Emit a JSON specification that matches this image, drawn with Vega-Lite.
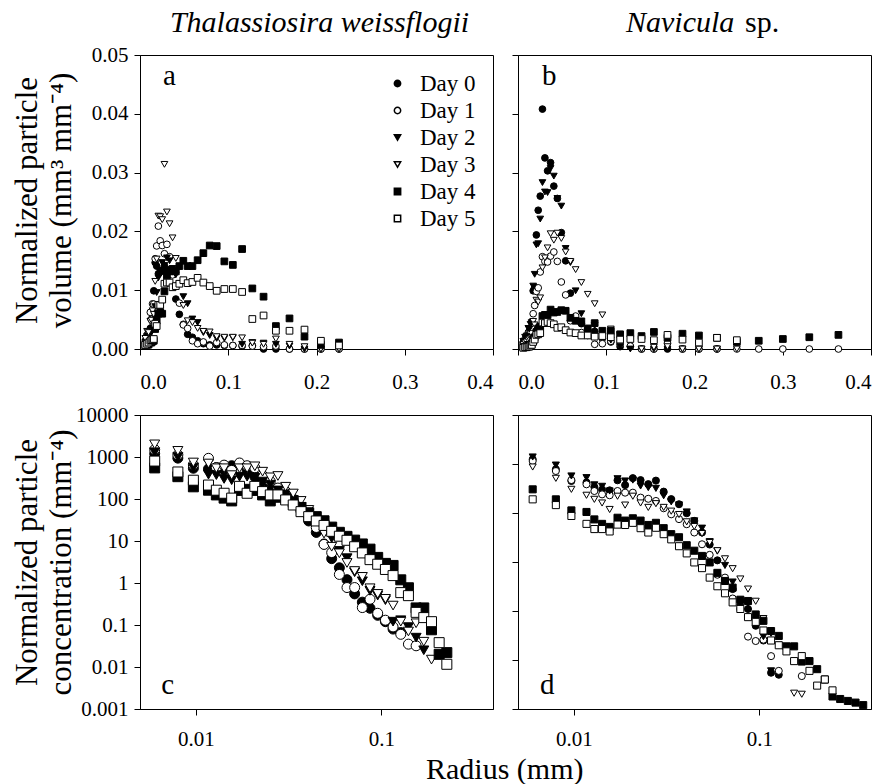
{
"$schema":"https://vega.github.io/schema/vega-lite/v6.json",
"background":"white",
"padding":{"left":10,"top":7,"right":5,"bottom":0},
"config":{
 "font":"Liberation Serif",
 "view":{"stroke":"black","strokeWidth":1},
 "axis":{"grid":false,"domainColor":"black","tickColor":"black","labelColor":"black","titleColor":"black","labelFontSize":21,"tickSize":6,"domainWidth":1,"tickWidth":1,"titleFontWeight":"normal","labelFont":"Liberation Serif","titleFont":"Liberation Serif"},
 "title":{"font":"Liberation Serif","color":"black","fontWeight":"normal"},
 "text":{"font":"Liberation Serif"}
},
"data":{"values":[
{"s":"T","d":0,"r":0.006,"n":1200,"v":0.0011},{"s":"T","d":0,"r":0.008,"n":940,"v":0.002},{"s":"T","d":0,"r":0.0097,"n":540,"v":0.0021},{"s":"T","d":0,"r":0.0117,"n":520,"v":0.0035},{"s":"T","d":0,"r":0.0129,"n":560,"v":0.005},{"s":"T","d":0,"r":0.0142,"n":500,"v":0.006},{"s":"T","d":0,"r":0.0156,"n":620,"v":0.0099},{"s":"T","d":0,"r":0.0172,"n":690,"v":0.0147},{"s":"T","d":0,"r":0.0189,"n":500,"v":0.0141},{"s":"T","d":0,"r":0.0208,"n":340,"v":0.0128},{"s":"T","d":0,"r":0.0229,"n":260,"v":0.0131},{"s":"T","d":0,"r":0.0252,"n":200,"v":0.0134},{"s":"T","d":0,"r":0.0277,"n":158,"v":0.0141},{"s":"T","d":0,"r":0.0305,"n":112,"v":0.0133},{"s":"T","d":0,"r":0.0335,"n":86,"v":0.0135},{"s":"T","d":0,"r":0.0369,"n":62,"v":0.013},{"s":"T","d":0,"r":0.0406,"n":30,"v":0.0085},{"s":"T","d":0,"r":0.0446,"n":16,"v":0.0059},{"s":"T","d":0,"r":0.0491,"n":8.5,"v":0.0042},{"s":"T","d":0,"r":0.054,"n":3.8,"v":0.0025},{"s":"T","d":0,"r":0.0594,"n":2.3,"v":0.002},{"s":"T","d":0,"r":0.0653,"n":1.2,"v":0.0014},{"s":"T","d":0,"r":0.0718,"n":0.55,"v":0.0009},{"s":"T","d":0,"r":0.079,"n":0.35,"v":0.0007},{"s":"T","d":0,"r":0.0869,"n":0.25,"v":0.0007},{"s":"T","d":0,"r":0.0956,"n":0.17,"v":0.0006},{"s":"T","d":0,"r":0.1052,"n":0.12,"v":0.0006},{"s":"T","d":0,"r":0.1157,"n":0.08,"v":0.0005},{"s":"T","d":0,"r":0.1273,"n":0.066,"v":0.0006},{"s":"T","d":0,"r":0.14,"n":null,"v":0},{"s":"T","d":0,"r":0.154,"n":null,"v":0},{"s":"T","d":0,"r":0.1694,"n":null,"v":0},{"s":"T","d":0,"r":0.1864,"n":null,"v":0},{"s":"T","d":0,"r":0.205,"n":null,"v":0},{"s":"T","d":0,"r":0.2255,"n":null,"v":0},
{"s":"T","d":1,"r":0.006,"n":1500,"v":0.00136},{"s":"T","d":1,"r":0.008,"n":1130,"v":0.00242},{"s":"T","d":1,"r":0.0097,"n":650,"v":0.00248},{"s":"T","d":1,"r":0.0117,"n":930,"v":0.00624},{"s":"T","d":1,"r":0.0129,"n":560,"v":0.00504},{"s":"T","d":1,"r":0.0142,"n":640,"v":0.00768},{"s":"T","d":1,"r":0.0156,"n":480,"v":0.00763},{"s":"T","d":1,"r":0.0172,"n":720,"v":0.01535},{"s":"T","d":1,"r":0.0189,"n":620,"v":0.01753},{"s":"T","d":1,"r":0.0208,"n":554,"v":0.0209},{"s":"T","d":1,"r":0.0229,"n":366,"v":0.0184},{"s":"T","d":1,"r":0.0252,"n":263,"v":0.0176},{"s":"T","d":1,"r":0.0277,"n":182,"v":0.0162},{"s":"T","d":1,"r":0.0305,"n":150,"v":0.0178},{"s":"T","d":1,"r":0.0335,"n":100,"v":0.0157},{"s":"T","d":1,"r":0.0369,"n":60,"v":0.0126},{"s":"T","d":1,"r":0.0406,"n":38,"v":0.0107},{"s":"T","d":1,"r":0.0446,"n":21,"v":0.0078},{"s":"T","d":1,"r":0.0491,"n":8.3,"v":0.0041},{"s":"T","d":1,"r":0.054,"n":5.3,"v":0.0035},{"s":"T","d":1,"r":0.0594,"n":1.6,"v":0.0014},{"s":"T","d":1,"r":0.0653,"n":0.78,"v":0.0009},{"s":"T","d":1,"r":0.0718,"n":0.78,"v":0.0012},{"s":"T","d":1,"r":0.079,"n":0.26,"v":0.0005},{"s":"T","d":1,"r":0.0869,"n":0.41,"v":0.0011},{"s":"T","d":1,"r":0.0956,"n":0.19,"v":0.0007},{"s":"T","d":1,"r":0.1052,"n":0.13,"v":0.0006},{"s":"T","d":1,"r":0.1157,"n":0.09,"v":0.0006},{"s":"T","d":1,"r":0.1273,"n":0.06,"v":0.0005},{"s":"T","d":1,"r":0.14,"n":0.035,"v":0.0004},{"s":"T","d":1,"r":0.154,"n":0.032,"v":0.0005},{"s":"T","d":1,"r":0.1694,"n":null,"v":0},{"s":"T","d":1,"r":0.1864,"n":null,"v":0},{"s":"T","d":1,"r":0.205,"n":null,"v":0},{"s":"T","d":1,"r":0.2255,"n":null,"v":0},
{"s":"T","d":2,"r":0.006,"n":1300,"v":0.0012},{"s":"T","d":2,"r":0.008,"n":1000,"v":0.0021},{"s":"T","d":2,"r":0.0097,"n":560,"v":0.0021},{"s":"T","d":2,"r":0.0117,"n":380,"v":0.0025},{"s":"T","d":2,"r":0.0129,"n":370,"v":0.0033},{"s":"T","d":2,"r":0.0142,"n":300,"v":0.0036},{"s":"T","d":2,"r":0.0156,"n":280,"v":0.0045},{"s":"T","d":2,"r":0.0172,"n":340,"v":0.0072},{"s":"T","d":2,"r":0.0189,"n":340,"v":0.0096},{"s":"T","d":2,"r":0.0208,"n":320,"v":0.0121},{"s":"T","d":2,"r":0.0229,"n":260,"v":0.0131},{"s":"T","d":2,"r":0.0252,"n":220,"v":0.0147},{"s":"T","d":2,"r":0.0277,"n":160,"v":0.0142},{"s":"T","d":2,"r":0.0305,"n":130,"v":0.0155},{"s":"T","d":2,"r":0.0335,"n":95,"v":0.015},{"s":"T","d":2,"r":0.0369,"n":65,"v":0.0137},{"s":"T","d":2,"r":0.0406,"n":45,"v":0.0126},{"s":"T","d":2,"r":0.0446,"n":30,"v":0.0111},{"s":"T","d":2,"r":0.0491,"n":18,"v":0.0089},{"s":"T","d":2,"r":0.054,"n":11.7,"v":0.0077},{"s":"T","d":2,"r":0.0594,"n":5.8,"v":0.0051},{"s":"T","d":2,"r":0.0653,"n":3.9,"v":0.0045},{"s":"T","d":2,"r":0.0718,"n":1.8,"v":0.0028},{"s":"T","d":2,"r":0.079,"n":1.1,"v":0.0023},{"s":"T","d":2,"r":0.0869,"n":0.65,"v":0.0018},{"s":"T","d":2,"r":0.0956,"n":0.5,"v":0.0018},{"s":"T","d":2,"r":0.1052,"n":0.39,"v":0.0019},{"s":"T","d":2,"r":0.1157,"n":0.12,"v":0.0008},{"s":"T","d":2,"r":0.1273,"n":0.13,"v":0.0011},{"s":"T","d":2,"r":0.14,"n":0.089,"v":0.001},{"s":"T","d":2,"r":0.154,"n":0.05,"v":0.0008},{"s":"T","d":2,"r":0.1694,"n":0.025,"v":0.0005},{"s":"T","d":2,"r":0.1864,"n":null,"v":0},{"s":"T","d":2,"r":0.205,"n":null,"v":0},{"s":"T","d":2,"r":0.2255,"n":null,"v":0},
{"s":"T","d":3,"r":0.006,"n":2000,"v":0.0018},{"s":"T","d":3,"r":0.008,"n":1400,"v":0.003},{"s":"T","d":3,"r":0.0097,"n":740,"v":0.0028},{"s":"T","d":3,"r":0.0117,"n":700,"v":0.0047},{"s":"T","d":3,"r":0.0129,"n":540,"v":0.0049},{"s":"T","d":3,"r":0.0142,"n":540,"v":0.0065},{"s":"T","d":3,"r":0.0156,"n":370,"v":0.0059},{"s":"T","d":3,"r":0.0172,"n":540,"v":0.0115},{"s":"T","d":3,"r":0.0189,"n":540,"v":0.0153},{"s":"T","d":3,"r":0.0208,"n":600,"v":0.0226},{"s":"T","d":3,"r":0.0229,"n":447,"v":0.0225},{"s":"T","d":3,"r":0.0252,"n":328,"v":0.022},{"s":"T","d":3,"r":0.0277,"n":353,"v":0.0314},{"s":"T","d":3,"r":0.0305,"n":196,"v":0.0233},{"s":"T","d":3,"r":0.0335,"n":135,"v":0.0213},{"s":"T","d":3,"r":0.0369,"n":90,"v":0.0189},{"s":"T","d":3,"r":0.0406,"n":55,"v":0.0154},{"s":"T","d":3,"r":0.0446,"n":30,"v":0.0111},{"s":"T","d":3,"r":0.0491,"n":15,"v":0.0074},{"s":"T","d":3,"r":0.054,"n":7.3,"v":0.0048},{"s":"T","d":3,"r":0.0594,"n":5.1,"v":0.0045},{"s":"T","d":3,"r":0.0653,"n":3,"v":0.0035},{"s":"T","d":3,"r":0.0718,"n":1.93,"v":0.003},{"s":"T","d":3,"r":0.079,"n":1.4,"v":0.0029},{"s":"T","d":3,"r":0.0869,"n":0.75,"v":0.0021},{"s":"T","d":3,"r":0.0956,"n":0.55,"v":0.002},{"s":"T","d":3,"r":0.1052,"n":0.42,"v":0.002},{"s":"T","d":3,"r":0.1157,"n":0.29,"v":0.0019},{"s":"T","d":3,"r":0.1273,"n":0.12,"v":0.001},{"s":"T","d":3,"r":0.14,"n":0.07,"v":0.0008},{"s":"T","d":3,"r":0.154,"n":0.11,"v":0.0017},{"s":"T","d":3,"r":0.1694,"n":0.04,"v":0.0008},{"s":"T","d":3,"r":0.1864,"n":0.015,"v":0.0004},{"s":"T","d":3,"r":0.205,"n":null,"v":0},{"s":"T","d":3,"r":0.2255,"n":null,"v":0},
{"s":"T","d":4,"r":0.006,"n":550,"v":0.0005},{"s":"T","d":4,"r":0.008,"n":340,"v":0.0007},{"s":"T","d":4,"r":0.0097,"n":195,"v":0.00075},{"s":"T","d":4,"r":0.0117,"n":162,"v":0.0011},{"s":"T","d":4,"r":0.0129,"n":125,"v":0.0011},{"s":"T","d":4,"r":0.0142,"n":105,"v":0.0013},{"s":"T","d":4,"r":0.0156,"n":90,"v":0.0014},{"s":"T","d":4,"r":0.0172,"n":160,"v":0.0034},{"s":"T","d":4,"r":0.0189,"n":170,"v":0.0048},{"s":"T","d":4,"r":0.0208,"n":160,"v":0.006},{"s":"T","d":4,"r":0.0229,"n":125,"v":0.0063},{"s":"T","d":4,"r":0.0252,"n":90,"v":0.006},{"s":"T","d":4,"r":0.0277,"n":110,"v":0.0098},{"s":"T","d":4,"r":0.0305,"n":105,"v":0.0125},{"s":"T","d":4,"r":0.0335,"n":84,"v":0.0132},{"s":"T","d":4,"r":0.0369,"n":63,"v":0.0133},{"s":"T","d":4,"r":0.0406,"n":47,"v":0.0132},{"s":"T","d":4,"r":0.0446,"n":38,"v":0.0141},{"s":"T","d":4,"r":0.0491,"n":30.3,"v":0.015},{"s":"T","d":4,"r":0.054,"n":21.4,"v":0.0141},{"s":"T","d":4,"r":0.0594,"n":16.1,"v":0.0141},{"s":"T","d":4,"r":0.0653,"n":12.9,"v":0.0151},{"s":"T","d":4,"r":0.0718,"n":10.5,"v":0.0163},{"s":"T","d":4,"r":0.079,"n":8.5,"v":0.0176},{"s":"T","d":4,"r":0.0869,"n":6.4,"v":0.0175},{"s":"T","d":4,"r":0.0956,"n":4.07,"v":0.0149},{"s":"T","d":4,"r":0.1052,"n":2.93,"v":0.0143},{"s":"T","d":4,"r":0.1157,"n":2.62,"v":0.017},{"s":"T","d":4,"r":0.1273,"n":1.19,"v":0.0103},{"s":"T","d":4,"r":0.14,"n":0.77,"v":0.0089},{"s":"T","d":4,"r":0.154,"n":0.255,"v":0.0039},{"s":"T","d":4,"r":0.1694,"n":0.255,"v":0.0052},{"s":"T","d":4,"r":0.1864,"n":0.077,"v":0.0021},{"s":"T","d":4,"r":0.205,"n":0.02,"v":0.0007},{"s":"T","d":4,"r":0.2255,"n":0.022,"v":0.0011},
{"s":"T","d":5,"r":0.006,"n":800,"v":0.0007},{"s":"T","d":5,"r":0.008,"n":440,"v":0.0009},{"s":"T","d":5,"r":0.0097,"n":280,"v":0.0011},{"s":"T","d":5,"r":0.0117,"n":215,"v":0.0014},{"s":"T","d":5,"r":0.0129,"n":162,"v":0.0015},{"s":"T","d":5,"r":0.0142,"n":137,"v":0.0016},{"s":"T","d":5,"r":0.0156,"n":105,"v":0.0017},{"s":"T","d":5,"r":0.0172,"n":200,"v":0.0043},{"s":"T","d":5,"r":0.0189,"n":137,"v":0.0039},{"s":"T","d":5,"r":0.0208,"n":200,"v":0.0075},{"s":"T","d":5,"r":0.0229,"n":150,"v":0.0075},{"s":"T","d":5,"r":0.0252,"n":125,"v":0.0084},{"s":"T","d":5,"r":0.0277,"n":125,"v":0.0111},{"s":"T","d":5,"r":0.0305,"n":95,"v":0.0113},{"s":"T","d":5,"r":0.0335,"n":72,"v":0.0113},{"s":"T","d":5,"r":0.0369,"n":50,"v":0.0105},{"s":"T","d":5,"r":0.0406,"n":38,"v":0.0107},{"s":"T","d":5,"r":0.0446,"n":30,"v":0.0111},{"s":"T","d":5,"r":0.0491,"n":23.5,"v":0.0117},{"s":"T","d":5,"r":0.054,"n":17,"v":0.0112},{"s":"T","d":5,"r":0.0594,"n":13,"v":0.0114},{"s":"T","d":5,"r":0.0653,"n":10.4,"v":0.0121},{"s":"T","d":5,"r":0.0718,"n":7.3,"v":0.0113},{"s":"T","d":5,"r":0.079,"n":5.2,"v":0.0107},{"s":"T","d":5,"r":0.0869,"n":3.6,"v":0.0099},{"s":"T","d":5,"r":0.0956,"n":2.8,"v":0.0102},{"s":"T","d":5,"r":0.1052,"n":2.1,"v":0.0102},{"s":"T","d":5,"r":0.1157,"n":1.5,"v":0.0097},{"s":"T","d":5,"r":0.1273,"n":0.59,"v":0.0051},{"s":"T","d":5,"r":0.14,"n":0.5,"v":0.0057},{"s":"T","d":5,"r":0.154,"n":0.2,"v":0.0031},{"s":"T","d":5,"r":0.1694,"n":0.15,"v":0.0031},{"s":"T","d":5,"r":0.1864,"n":0.12,"v":0.0033},{"s":"T","d":5,"r":0.205,"n":0.038,"v":0.0014},{"s":"T","d":5,"r":0.2255,"n":0.0116,"v":0.0006},
{"s":"N","d":0,"r":0.006,"n":1250,"v":0.0011},{"s":"N","d":0,"r":0.008,"n":780,"v":0.0017},{"s":"N","d":0,"r":0.0097,"n":450,"v":0.0017},{"s":"N","d":0,"r":0.0117,"n":420,"v":0.0028},{"s":"N","d":0,"r":0.0129,"n":340,"v":0.0031},{"s":"N","d":0,"r":0.0142,"n":300,"v":0.0036},{"s":"N","d":0,"r":0.0156,"n":290,"v":0.0046},{"s":"N","d":0,"r":0.0172,"n":465,"v":0.0099},{"s":"N","d":0,"r":0.0189,"n":371,"v":0.0105},{"s":"N","d":0,"r":0.0208,"n":515,"v":0.0194},{"s":"N","d":0,"r":0.0229,"n":469,"v":0.0236},{"s":"N","d":0,"r":0.0252,"n":388,"v":0.026},{"s":"N","d":0,"r":0.0277,"n":458,"v":0.0408},{"s":"N","d":0,"r":0.0305,"n":273,"v":0.0325},{"s":"N","d":0,"r":0.0335,"n":192,"v":0.0303},{"s":"N","d":0,"r":0.0369,"n":151,"v":0.0317},{"s":"N","d":0,"r":0.0406,"n":99,"v":0.0277},{"s":"N","d":0,"r":0.0446,"n":69,"v":0.0256},{"s":"N","d":0,"r":0.0491,"n":40,"v":0.0198},{"s":"N","d":0,"r":0.054,"n":22.7,"v":0.015},{"s":"N","d":0,"r":0.0594,"n":10.8,"v":0.0095},{"s":"N","d":0,"r":0.0653,"n":4.4,"v":0.0051},{"s":"N","d":0,"r":0.0718,"n":2.8,"v":0.0043},{"s":"N","d":0,"r":0.079,"n":1.6,"v":0.0033},{"s":"N","d":0,"r":0.0869,"n":1.1,"v":0.003},{"s":"N","d":0,"r":0.0956,"n":0.5,"v":0.0018},{"s":"N","d":0,"r":0.1052,"n":0.25,"v":0.0012},{"s":"N","d":0,"r":0.1157,"n":0.055,"v":0.0004},{"s":"N","d":0,"r":0.1273,"n":0.05,"v":0.0004},{"s":"N","d":0,"r":0.14,"n":null,"v":0},{"s":"N","d":0,"r":0.154,"n":null,"v":0},{"s":"N","d":0,"r":0.1694,"n":null,"v":0},{"s":"N","d":0,"r":0.1864,"n":null,"v":0},{"s":"N","d":0,"r":0.205,"n":null,"v":0},{"s":"N","d":0,"r":0.2255,"n":null,"v":0},
{"s":"N","d":1,"r":0.006,"n":1150,"v":0.001},{"s":"N","d":1,"r":0.008,"n":720,"v":0.0015},{"s":"N","d":1,"r":0.0097,"n":470,"v":0.0018},{"s":"N","d":1,"r":0.0117,"n":385,"v":0.0026},{"s":"N","d":1,"r":0.0129,"n":281,"v":0.0025},{"s":"N","d":1,"r":0.0142,"n":240,"v":0.0029},{"s":"N","d":1,"r":0.0156,"n":230,"v":0.0037},{"s":"N","d":1,"r":0.0172,"n":281,"v":0.006},{"s":"N","d":1,"r":0.0189,"n":260,"v":0.0074},{"s":"N","d":1,"r":0.0208,"n":260,"v":0.0098},{"s":"N","d":1,"r":0.0229,"n":206,"v":0.0104},{"s":"N","d":1,"r":0.0252,"n":195,"v":0.0131},{"s":"N","d":1,"r":0.0277,"n":176,"v":0.0157},{"s":"N","d":1,"r":0.0305,"n":125,"v":0.0149},{"s":"N","d":1,"r":0.0335,"n":94,"v":0.0148},{"s":"N","d":1,"r":0.0369,"n":75,"v":0.0158},{"s":"N","d":1,"r":0.0406,"n":59,"v":0.0165},{"s":"N","d":1,"r":0.0446,"n":40,"v":0.0149},{"s":"N","d":1,"r":0.0491,"n":23,"v":0.0114},{"s":"N","d":1,"r":0.054,"n":14,"v":0.0092},{"s":"N","d":1,"r":0.0594,"n":5.5,"v":0.0048},{"s":"N","d":1,"r":0.0653,"n":4.8,"v":0.0056},{"s":"N","d":1,"r":0.0718,"n":1.8,"v":0.0028},{"s":"N","d":1,"r":0.079,"n":1.1,"v":0.0023},{"s":"N","d":1,"r":0.0869,"n":0.3,"v":0.0008},{"s":"N","d":1,"r":0.0956,"n":0.244,"v":0.0009},{"s":"N","d":1,"r":0.1052,"n":0.26,"v":0.0013},{"s":"N","d":1,"r":0.1157,"n":0.12,"v":0.0008},{"s":"N","d":1,"r":0.1273,"n":0.06,"v":0.0005},{"s":"N","d":1,"r":0.14,"n":null,"v":0},{"s":"N","d":1,"r":0.154,"n":null,"v":0},{"s":"N","d":1,"r":0.1694,"n":0.047,"v":0.001},{"s":"N","d":1,"r":0.1864,"n":null,"v":0},{"s":"N","d":1,"r":0.205,"n":null,"v":0},{"s":"N","d":1,"r":0.2255,"n":null,"v":0},{"s":"N","d":1,"r":0.248,"n":null,"v":0},{"s":"N","d":1,"r":0.2728,"n":null,"v":0},{"s":"N","d":1,"r":0.3001,"n":null,"v":0},{"s":"N","d":1,"r":0.3301,"n":null,"v":0},{"s":"N","d":1,"r":0.3631,"n":null,"v":0},
{"s":"N","d":2,"r":0.006,"n":1390,"v":0.0013},{"s":"N","d":2,"r":0.008,"n":950,"v":0.002},{"s":"N","d":2,"r":0.0097,"n":570,"v":0.0022},{"s":"N","d":2,"r":0.0117,"n":526,"v":0.0035},{"s":"N","d":2,"r":0.0129,"n":375,"v":0.0034},{"s":"N","d":2,"r":0.0142,"n":350,"v":0.0042},{"s":"N","d":2,"r":0.0156,"n":281,"v":0.0045},{"s":"N","d":2,"r":0.0172,"n":500,"v":0.0107},{"s":"N","d":2,"r":0.0189,"n":450,"v":0.0127},{"s":"N","d":2,"r":0.0208,"n":470,"v":0.0177},{"s":"N","d":2,"r":0.0229,"n":356,"v":0.0179},{"s":"N","d":2,"r":0.0252,"n":330,"v":0.0221},{"s":"N","d":2,"r":0.0277,"n":318,"v":0.0283},{"s":"N","d":2,"r":0.0305,"n":225,"v":0.0267},{"s":"N","d":2,"r":0.0335,"n":169,"v":0.0266},{"s":"N","d":2,"r":0.0369,"n":146,"v":0.0307},{"s":"N","d":2,"r":0.0406,"n":105,"v":0.0294},{"s":"N","d":2,"r":0.0446,"n":69,"v":0.0256},{"s":"N","d":2,"r":0.0491,"n":49,"v":0.0243},{"s":"N","d":2,"r":0.054,"n":26,"v":0.0171},{"s":"N","d":2,"r":0.0594,"n":16.7,"v":0.0147},{"s":"N","d":2,"r":0.0653,"n":8.5,"v":0.0099},{"s":"N","d":2,"r":0.0718,"n":3.9,"v":0.006},{"s":"N","d":2,"r":0.079,"n":1.17,"v":0.0024},{"s":"N","d":2,"r":0.0869,"n":1.47,"v":0.004},{"s":"N","d":2,"r":0.0956,"n":0.6,"v":0.0022},{"s":"N","d":2,"r":0.1052,"n":0.3,"v":0.0015},{"s":"N","d":2,"r":0.1157,"n":0.06,"v":0.0004},{"s":"N","d":2,"r":0.1273,"n":null,"v":0},{"s":"N","d":2,"r":0.14,"n":null,"v":0},{"s":"N","d":2,"r":0.154,"n":null,"v":0},{"s":"N","d":2,"r":0.1694,"n":null,"v":0},{"s":"N","d":2,"r":0.1864,"n":null,"v":0},{"s":"N","d":2,"r":0.205,"n":null,"v":0},{"s":"N","d":2,"r":0.2255,"n":null,"v":0},
{"s":"N","d":3,"r":0.006,"n":868,"v":0.0008},{"s":"N","d":3,"r":0.008,"n":510,"v":0.0011},{"s":"N","d":3,"r":0.0097,"n":304,"v":0.0012},{"s":"N","d":3,"r":0.0117,"n":230,"v":0.0015},{"s":"N","d":3,"r":0.0129,"n":190,"v":0.0017},{"s":"N","d":3,"r":0.0142,"n":160,"v":0.0019},{"s":"N","d":3,"r":0.0156,"n":118,"v":0.0019},{"s":"N","d":3,"r":0.0172,"n":220,"v":0.0047},{"s":"N","d":3,"r":0.0189,"n":145,"v":0.0041},{"s":"N","d":3,"r":0.0208,"n":220,"v":0.0083},{"s":"N","d":3,"r":0.0229,"n":160,"v":0.008},{"s":"N","d":3,"r":0.0252,"n":130,"v":0.0087},{"s":"N","d":3,"r":0.0277,"n":155,"v":0.0138},{"s":"N","d":3,"r":0.0305,"n":130,"v":0.0155},{"s":"N","d":3,"r":0.0335,"n":109,"v":0.0172},{"s":"N","d":3,"r":0.0369,"n":93,"v":0.0196},{"s":"N","d":3,"r":0.0406,"n":66,"v":0.0185},{"s":"N","d":3,"r":0.0446,"n":53,"v":0.0197},{"s":"N","d":3,"r":0.0491,"n":38,"v":0.0188},{"s":"N","d":3,"r":0.054,"n":25,"v":0.0165},{"s":"N","d":3,"r":0.0594,"n":17,"v":0.0149},{"s":"N","d":3,"r":0.0653,"n":11.6,"v":0.0135},{"s":"N","d":3,"r":0.0718,"n":7.3,"v":0.0113},{"s":"N","d":3,"r":0.079,"n":4.5,"v":0.0093},{"s":"N","d":3,"r":0.0869,"n":2.8,"v":0.0077},{"s":"N","d":3,"r":0.0956,"n":1.58,"v":0.0058},{"s":"N","d":3,"r":0.1052,"n":0.7,"v":0.0034},{"s":"N","d":3,"r":0.1157,"n":0.35,"v":0.0023},{"s":"N","d":3,"r":0.1273,"n":0.2,"v":0.0017},{"s":"N","d":3,"r":0.14,"n":null,"v":0},{"s":"N","d":3,"r":0.154,"n":0.021,"v":0.0003},{"s":"N","d":3,"r":0.1694,"n":0.02,"v":0.0004},{"s":"N","d":3,"r":0.1864,"n":null,"v":0},{"s":"N","d":3,"r":0.205,"n":null,"v":0},{"s":"N","d":3,"r":0.2255,"n":null,"v":0},{"s":"N","d":3,"r":0.248,"n":null,"v":0},
{"s":"N","d":4,"r":0.006,"n":304,"v":0.0003},{"s":"N","d":4,"r":0.008,"n":190,"v":0.0004},{"s":"N","d":4,"r":0.0097,"n":113,"v":0.0004},{"s":"N","d":4,"r":0.0117,"n":105,"v":0.0007},{"s":"N","d":4,"r":0.0129,"n":74,"v":0.0007},{"s":"N","d":4,"r":0.0142,"n":60,"v":0.0007},{"s":"N","d":4,"r":0.0156,"n":52,"v":0.0008},{"s":"N","d":4,"r":0.0172,"n":80,"v":0.0017},{"s":"N","d":4,"r":0.0189,"n":70,"v":0.002},{"s":"N","d":4,"r":0.0208,"n":78,"v":0.0029},{"s":"N","d":4,"r":0.0229,"n":70,"v":0.0035},{"s":"N","d":4,"r":0.0252,"n":57,"v":0.0038},{"s":"N","d":4,"r":0.0277,"n":63,"v":0.0056},{"s":"N","d":4,"r":0.0305,"n":49,"v":0.0058},{"s":"N","d":4,"r":0.0335,"n":37,"v":0.0058},{"s":"N","d":4,"r":0.0369,"n":32,"v":0.0067},{"s":"N","d":4,"r":0.0406,"n":22,"v":0.0062},{"s":"N","d":4,"r":0.0446,"n":17,"v":0.0063},{"s":"N","d":4,"r":0.0491,"n":13.3,"v":0.0066},{"s":"N","d":4,"r":0.054,"n":9.8,"v":0.0065},{"s":"N","d":4,"r":0.0594,"n":6,"v":0.0053},{"s":"N","d":4,"r":0.0653,"n":4.1,"v":0.0048},{"s":"N","d":4,"r":0.0718,"n":3,"v":0.0047},{"s":"N","d":4,"r":0.079,"n":1.7,"v":0.0035},{"s":"N","d":4,"r":0.0869,"n":1.6,"v":0.0044},{"s":"N","d":4,"r":0.0956,"n":0.85,"v":0.0031},{"s":"N","d":4,"r":0.1052,"n":0.63,"v":0.0031},{"s":"N","d":4,"r":0.1157,"n":0.39,"v":0.0025},{"s":"N","d":4,"r":0.1273,"n":0.31,"v":0.0027},{"s":"N","d":4,"r":0.14,"n":0.19,"v":0.0022},{"s":"N","d":4,"r":0.154,"n":0.19,"v":0.0029},{"s":"N","d":4,"r":0.1694,"n":0.093,"v":0.0019},{"s":"N","d":4,"r":0.1864,"n":0.095,"v":0.0026},{"s":"N","d":4,"r":0.205,"n":0.065,"v":0.0023},{"s":"N","d":4,"r":0.2255,"n":0.04,"v":0.0019},{"s":"N","d":4,"r":0.248,"n":0.018,"v":0.0012},{"s":"N","d":4,"r":0.2728,"n":0.016,"v":0.0014},{"s":"N","d":4,"r":0.3001,"n":0.0146,"v":0.0017},{"s":"N","d":4,"r":0.3301,"n":0.0135,"v":0.002},{"s":"N","d":4,"r":0.3631,"n":0.012,"v":0.0024},
{"s":"N","d":5,"r":0.006,"n":190,"v":0.0002},{"s":"N","d":5,"r":0.008,"n":145,"v":0.0003},{"s":"N","d":5,"r":0.0097,"n":87,"v":0.0003},{"s":"N","d":5,"r":0.0117,"n":60,"v":0.0004},{"s":"N","d":5,"r":0.0129,"n":47,"v":0.0004},{"s":"N","d":5,"r":0.0142,"n":47,"v":0.0006},{"s":"N","d":5,"r":0.0156,"n":42,"v":0.0007},{"s":"N","d":5,"r":0.0172,"n":58,"v":0.0012},{"s":"N","d":5,"r":0.0189,"n":57,"v":0.0016},{"s":"N","d":5,"r":0.0208,"n":63,"v":0.0024},{"s":"N","d":5,"r":0.0229,"n":49,"v":0.0025},{"s":"N","d":5,"r":0.0252,"n":40,"v":0.0027},{"s":"N","d":5,"r":0.0277,"n":50,"v":0.0045},{"s":"N","d":5,"r":0.0305,"n":37,"v":0.0044},{"s":"N","d":5,"r":0.0335,"n":29,"v":0.0046},{"s":"N","d":5,"r":0.0369,"n":21,"v":0.0044},{"s":"N","d":5,"r":0.0406,"n":15,"v":0.0042},{"s":"N","d":5,"r":0.0446,"n":9.8,"v":0.0036},{"s":"N","d":5,"r":0.0491,"n":7.5,"v":0.0037},{"s":"N","d":5,"r":0.054,"n":4.8,"v":0.0032},{"s":"N","d":5,"r":0.0594,"n":3.2,"v":0.0028},{"s":"N","d":5,"r":0.0653,"n":2.3,"v":0.0027},{"s":"N","d":5,"r":0.0718,"n":1.5,"v":0.0023},{"s":"N","d":5,"r":0.079,"n":1.1,"v":0.0023},{"s":"N","d":5,"r":0.0869,"n":0.75,"v":0.0021},{"s":"N","d":5,"r":0.0956,"n":0.6,"v":0.0022},{"s":"N","d":5,"r":0.1052,"n":0.4,"v":0.002},{"s":"N","d":5,"r":0.1157,"n":0.25,"v":0.0016},{"s":"N","d":5,"r":0.1273,"n":0.2,"v":0.0017},{"s":"N","d":5,"r":0.14,"n":0.15,"v":0.0017},{"s":"N","d":5,"r":0.154,"n":0.095,"v":0.0015},{"s":"N","d":5,"r":0.1694,"n":0.12,"v":0.0024},{"s":"N","d":5,"r":0.1864,"n":0.06,"v":0.0016},{"s":"N","d":5,"r":0.205,"n":0.03,"v":0.0011},{"s":"N","d":5,"r":0.2255,"n":0.04,"v":0.0019},{"s":"N","d":5,"r":0.248,"n":0.024,"v":0.0015}
]},
"title":{"text":"Radius (mm)","orient":"bottom","anchor":"start","frame":"group","font":"Liberation Serif","fontSize":30,"offset":5,"dx":286,"color":"black"},
"columns":2,
"spacing":{"row":66,"column":25},
"bounds":"flush",
"resolve":{"legend":{"shape":"independent","fill":"independent"}},
"concat":[
 {
  "width":353,"height":294,
  "title":{"text":"Thalassiosira weissflogii","font":"Liberation Serif","fontStyle":"italic","fontSize":30,"anchor":"middle","frame":"group","offset":6,"dx":3},
  "layer":[
   {
    "transform":[{"filter":"datum.s == 'T'"}],
    "mark":{"type":"point","filled":true,"stroke":"black","strokeWidth":1,"size":45,"opacity":1},
    "encoding":{
     "x":{"field":"r","type":"quantitative","scale":{"domain":[0,0.4],"nice":false},"axis":{"values":[0,0.1,0.2,0.3,0.4],"format":".1f","title":null,"labelPadding":16}},
     "y":{"field":"v","type":"quantitative","scale":{"domain":[0,0.05],"nice":false},"axis":{"values":[0,0.01,0.02,0.03,0.04,0.05],"format":".2f","labelPadding":6,"title":["Normalized particle","volume (mm³ mm⁻⁴)"],"titleFontSize":31,"titleLineHeight":34,"titleX":-104,"titleY":145,"titleBaseline":"alphabetic","titleAlign":"center","titleAngle":-90}},
     "shape":{"field":"d","type":"nominal","scale":{"domain":[0,1,2,3,4,5],"range":["circle","circle","triangle-down","triangle-down","square","square"]},"legend":{"title":null,"orient":"none","legendX":246,"legendY":17,"labelExpr":"'Day ' + datum.label","labelFontSize":23,"labelFont":"Liberation Serif","labelColor":"black","symbolSize":40,"labelOffset":11,"rowPadding":3,"encode":{"symbols":{"update":{"stroke":{"value":"black"},"strokeWidth":{"value":1}}}}}},
     "fill":{"field":"d","type":"nominal","scale":{"domain":[0,1,2,3,4,5],"range":["black","white","black","white","black","white"]},"legend":{"title":null,"orient":"none","legendX":246,"legendY":17,"labelExpr":"'Day ' + datum.label","labelFontSize":23,"labelFont":"Liberation Serif","labelColor":"black","symbolSize":40,"labelOffset":11,"rowPadding":3,"encode":{"symbols":{"update":{"stroke":{"value":"black"},"strokeWidth":{"value":1}}}}}}
    }
   },
   {
    "data":{"values":[{"t":"a"}]},
    "mark":{"type":"text","font":"Liberation Serif","fontSize":29,"align":"left","baseline":"alphabetic","color":"black"},
    "encoding":{"text":{"field":"t"},"x":{"datum":0.026},"y":{"datum":0.0449}}
   }
  ]
 },
 {
  "width":353,"height":294,
  "layer":[
   {
    "transform":[{"filter":"datum.s == 'N'"}],
    "mark":{"type":"point","filled":true,"stroke":"black","strokeWidth":1,"size":45,"opacity":1},
    "encoding":{
     "x":{"field":"r","type":"quantitative","scale":{"domain":[0,0.4],"nice":false},"axis":{"values":[0,0.1,0.2,0.3,0.4],"format":".1f","title":null,"labelPadding":16}},
     "y":{"field":"v","type":"quantitative","scale":{"domain":[0,0.05],"nice":false},"axis":{"values":[0,0.01,0.02,0.03,0.04,0.05],"labels":false,"title":null}},
     "shape":{"field":"d","type":"nominal","scale":{"domain":[0,1,2,3,4,5],"range":["circle","circle","triangle-down","triangle-down","square","square"]},"legend":null},
     "fill":{"field":"d","type":"nominal","scale":{"domain":[0,1,2,3,4,5],"range":["black","white","black","white","black","white"]},"legend":null}
    }
   },
   {
    "data":{"values":[{"t":"b"}]},
    "mark":{"type":"text","font":"Liberation Serif","fontSize":29,"align":"left","baseline":"alphabetic","color":"black"},
    "encoding":{"text":{"field":"t"},"x":{"datum":0.0272},"y":{"datum":0.0449}}
   },
   {
    "data":{"values":[{"t":"Navicula"}]},
    "mark":{"type":"text","font":"Liberation Serif","fontStyle":"italic","fontSize":30,"align":"left","baseline":"alphabetic","color":"black"},
    "encoding":{"text":{"field":"t"},"x":{"datum":0.1224},"y":{"datum":0.05391}}
   },
   {
    "data":{"values":[{"t":"sp."}]},
    "mark":{"type":"text","font":"Liberation Serif","fontSize":30,"align":"left","baseline":"alphabetic","color":"black"},
    "encoding":{"text":{"field":"t"},"x":{"datum":0.2572},"y":{"datum":0.05391}}
   }
  ]
 },
 {
  "width":353,"height":294,
  "layer":[
   {
    "transform":[{"filter":"datum.s == 'T'"}],
    "mark":{"type":"point","filled":true,"stroke":"black","strokeWidth":1,"size":100,"opacity":1},
    "encoding":{
     "x":{"field":"r","type":"quantitative","scale":{"type":"log","domain":[0.005,0.4],"nice":false},"axis":{"values":[0.01,0.1],"format":"~g","title":null,"labelPadding":13}},
     "y":{"field":"n","type":"quantitative","scale":{"type":"log","domain":[0.001,10000],"nice":false},"axis":{"values":[0.001,0.01,0.1,1,10,100,1000,10000],"format":"~g","labelPadding":6,"title":["Normalized particle","concentration (mm⁻⁴)"],"titleFontSize":31,"titleLineHeight":34,"titleX":-104,"titleY":147,"titleBaseline":"alphabetic","titleAlign":"center","titleAngle":-90}},
     "shape":{"field":"d","type":"nominal","scale":{"domain":[0,1,2,3,4,5],"range":["circle","circle","triangle-down","triangle-down","square","square"]},"legend":null},
     "fill":{"field":"d","type":"nominal","scale":{"domain":[0,1,2,3,4,5],"range":["black","white","black","white","black","white"]},"legend":null}
    }
   },
   {
    "data":{"values":[{"t":"c"}]},
    "mark":{"type":"text","font":"Liberation Serif","fontSize":29,"align":"left","baseline":"alphabetic","color":"black"},
    "encoding":{"text":{"field":"t"},"x":{"datum":0.0065},"y":{"datum":0.00228}}
   }
  ]
 },
 {
  "width":353,"height":294,
  "layer":[
   {
    "transform":[{"filter":"datum.s == 'N'"}],
    "mark":{"type":"point","filled":true,"stroke":"black","strokeWidth":1,"size":50,"opacity":1},
    "encoding":{
     "x":{"field":"r","type":"quantitative","scale":{"type":"log","domain":[0.005,0.4],"nice":false},"axis":{"values":[0.01,0.1],"format":"~g","title":null,"labelPadding":13}},
     "y":{"field":"n","type":"quantitative","scale":{"type":"log","domain":[0.01,10000],"nice":false},"axis":{"values":[0.01,0.1,1,10,100,1000,10000],"labels":false,"title":null}},
     "shape":{"field":"d","type":"nominal","scale":{"domain":[0,1,2,3,4,5],"range":["circle","circle","triangle-down","triangle-down","square","square"]},"legend":null},
     "fill":{"field":"d","type":"nominal","scale":{"domain":[0,1,2,3,4,5],"range":["black","white","black","white","black","white"]},"legend":null}
    }
   },
   {
    "data":{"values":[{"t":"d"}]},
    "mark":{"type":"text","font":"Liberation Serif","fontSize":29,"align":"left","baseline":"alphabetic","color":"black"},
    "encoding":{"text":{"field":"t"},"x":{"datum":0.00657},"y":{"datum":0.0202}}
   }
  ]
 }
]
}
